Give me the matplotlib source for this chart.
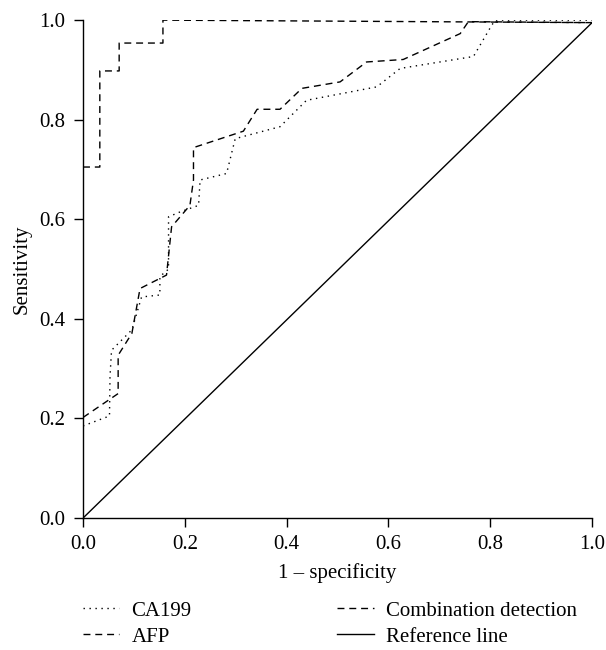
import matplotlib.pyplot as plt

plt.rcParams['font.family'] = ['Liberation Serif', 'DejaVu Serif']

# ROC curves (1 - specificity, sensitivity)
ca199_x = [0.0, 0.052, 0.053, 0.056, 0.096, 0.115, 0.151, 0.151, 0.168, 0.168, 0.191,
           0.227, 0.230, 0.282, 0.299, 0.387, 0.439, 0.577, 0.623, 0.767, 0.803, 0.81, 1.0]
ca199_y = [0.185, 0.205, 0.284, 0.337, 0.378, 0.444, 0.448, 0.485, 0.50, 0.605, 0.615,
           0.628, 0.679, 0.692, 0.762, 0.786, 0.839, 0.866, 0.903, 0.927, 0.99, 1.0, 1.0]

afp_x = [0.0, 0.069, 0.069, 0.096, 0.112, 0.164, 0.174, 0.210, 0.217, 0.217, 0.315,
         0.342, 0.387, 0.430, 0.505, 0.557, 0.629, 0.741, 0.757, 1.0]
afp_y = [0.202, 0.25, 0.327, 0.371, 0.461, 0.488, 0.585, 0.628, 0.679, 0.744, 0.777,
         0.821, 0.821, 0.863, 0.876, 0.916, 0.921, 0.973, 0.997, 0.995]

comb_x = [0.0, 0.033, 0.033, 0.071, 0.071, 0.157, 0.157, 1.0]
comb_y = [0.705, 0.705, 0.898, 0.898, 0.954, 0.954, 1.0, 0.995]

ref_x = [0.0, 1.0]
ref_y = [0.0, 0.995]

fig = plt.figure(figsize=(6.06, 6.5), dpi=100)
ax = fig.add_axes([0.137, 0.203, 0.840, 0.766])

ax.plot(ca199_x, ca199_y, color='black', lw=1.0, linestyle=(0, (1, 3.3)), label='CA199')
ax.plot(afp_x, afp_y, color='black', lw=1.0, linestyle=(0, (5, 3.5)), label='AFP')
ax.plot(comb_x, comb_y, color='black', lw=1.0, linestyle=(0, (5, 3.5)),
        label='Combination detection')
ax.plot(ref_x, ref_y, color='black', lw=1.0, label='Reference line')

ax.set_xlim(0, 1)
ax.set_ylim(0, 1)
ax.set_xticks([0, 0.2, 0.4, 0.6, 0.8, 1.0])
ax.set_yticks([0, 0.2, 0.4, 0.6, 0.8, 1.0])
ax.xaxis.set_major_formatter(plt.FormatStrFormatter('%.1f'))
ax.yaxis.set_major_formatter(plt.FormatStrFormatter('%.1f'))
ax.spines['top'].set_visible(False)
ax.spines['right'].set_visible(False)
ax.spines['left'].set_linewidth(1.0)
ax.spines['bottom'].set_linewidth(1.0)
ax.tick_params(direction='out', length=6.5, width=1.0, labelsize=15, pad=6)

ax.set_xlabel('1 – specificity', fontsize=15, labelpad=6)
ax.set_ylabel('Sensitivity', fontsize=15, labelpad=6)

fig.legend(handles=ax.get_lines(), loc='upper left', bbox_to_anchor=(0.106, 0.104),
           ncol=2, frameon=False, fontsize=15, handlelength=1.73, columnspacing=7.0,
           labelspacing=0.3, handletextpad=0.6)

fig.savefig('out.png', dpi=100)
